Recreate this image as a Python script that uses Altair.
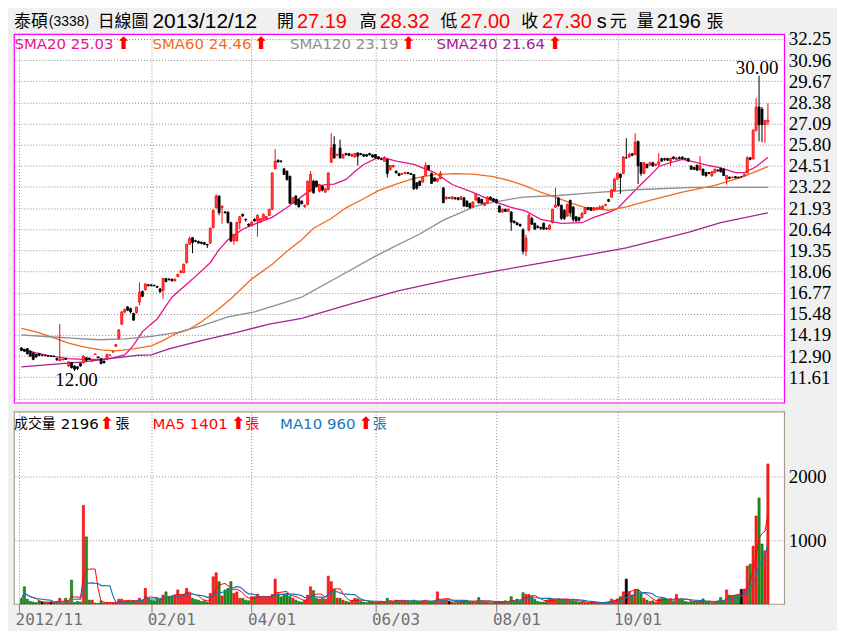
import altair as alt
import pandas as pd

# ---------------- data ----------------
OPEN = [
    13.40, 13.30, 13.35, 13.20, 13.10, 13.00, 13.05, 12.95, 12.95, 12.93,
    12.90, 12.90, 12.75, 12.62, 12.68, 12.75, 12.30, 12.50, 12.30, 12.25,
    12.45, 12.50, 12.80, 12.78, 12.60, 13.00, 12.85, 12.75, 12.60, 12.70,
    12.95, 13.15, 13.50, 14.00, 14.85, 15.60, 15.90, 15.80, 15.50, 15.55,
    16.20, 16.85, 16.95, 17.25, 17.25, 17.22, 17.15, 17.00, 16.90, 17.64,
    17.60, 17.60, 17.50, 17.76, 18.00, 18.00, 18.60, 19.73, 20.13, 19.95,
    19.90, 19.85, 19.83, 19.72, 19.80, 20.75, 21.96, 22.67, 21.96, 21.70,
    21.69, 21.04, 19.93, 19.93, 21.04, 21.55, 21.25, 20.95, 20.88, 21.25,
    21.15, 21.08, 21.25, 21.30, 21.49, 21.85, 24.33, 24.85, 24.80, 24.33,
    24.19, 23.88, 22.26, 22.67, 22.46, 22.36, 22.02, 22.16, 22.97, 23.58,
    23.58, 22.97, 23.27, 22.91, 23.07, 24.73, 25.81, 25.18, 25.60, 24.99,
    25.26, 25.25, 25.10, 25.06, 25.30, 25.26, 25.20, 25.20, 25.26, 25.18,
    25.20, 25.06, 24.93, 24.79, 24.89, 24.29, 24.45, 24.19, 24.04, 24.00,
    24.04, 24.10, 24.04, 23.98, 23.48, 23.58, 23.52, 23.92, 24.53, 24.04,
    23.78, 23.58, 23.72, 23.17, 22.50, 22.56, 22.50, 22.56, 22.56, 22.46,
    22.56, 22.36, 22.22, 22.02, 22.42, 22.56, 22.46, 22.10, 22.26, 22.60,
    22.50, 22.46, 22.06, 21.69, 21.86, 21.73, 21.69, 21.14, 21.04, 20.94,
    20.60, 19.30, 20.60, 21.30, 21.00, 20.80, 20.75, 21.00, 20.70, 20.65,
    21.05, 21.98, 22.55, 22.10, 21.80, 21.45, 22.40, 22.00, 21.40, 21.35,
    21.35, 21.60, 21.95, 21.95, 21.80, 21.85, 21.90, 21.90, 22.10, 22.45,
    22.60, 23.00, 23.70, 24.00, 24.05, 25.00, 25.05, 25.25, 25.20, 26.00,
    24.70, 24.05, 24.60, 24.55, 24.70, 24.55, 24.60, 24.95, 24.95, 24.95,
    24.80, 25.05, 24.90, 25.00, 25.05, 24.95, 24.95, 24.50, 24.40, 24.55,
    24.30, 24.30, 24.10, 24.10, 23.90, 24.10, 24.25, 24.35, 24.30, 23.68,
    23.82, 23.80, 23.85, 23.82, 23.85, 23.90, 24.08, 25.00, 24.93, 26.68,
    28.10, 27.97, 27.02, 27.19,
]
HIGH = [
    13.45, 13.35, 13.40, 13.25, 13.12, 13.05, 13.10, 13.00, 12.98, 12.95,
    12.95, 12.95, 12.80, 14.86, 12.75, 12.78, 12.60, 12.55, 12.35, 12.28,
    12.50, 12.95, 12.85, 12.80, 12.72, 13.05, 12.88, 12.80, 12.62, 13.05,
    13.00, 13.20, 13.62, 14.55, 15.65, 15.80, 15.95, 15.85, 15.55, 15.90,
    17.40, 16.90, 17.35, 17.30, 17.28, 17.26, 17.20, 17.05, 17.65, 17.66,
    17.65, 17.62, 17.62, 17.92, 18.15, 18.55, 19.75, 20.20, 20.15, 20.00,
    19.95, 19.90, 19.86, 19.75, 20.75, 21.85, 22.77, 22.70, 22.10, 21.75,
    21.72, 21.10, 20.35, 21.10, 21.45, 21.60, 21.30, 21.00, 21.10, 21.30,
    21.55, 21.30, 21.60, 21.45, 21.90, 24.10, 25.54, 24.90, 24.85, 24.35,
    24.20, 23.90, 22.60, 22.70, 22.50, 22.40, 22.15, 23.60, 24.20, 23.65,
    23.60, 23.40, 23.30, 23.15, 24.10, 26.50, 26.31, 25.25, 26.11, 25.25,
    25.30, 25.30, 25.25, 25.30, 25.32, 25.30, 25.25, 25.22, 25.30, 25.20,
    25.22, 25.10, 24.98, 25.10, 24.95, 24.55, 24.58, 24.22, 24.08, 24.08,
    24.15, 24.12, 24.08, 24.00, 23.50, 23.60, 23.90, 24.73, 24.55, 24.10,
    23.80, 23.75, 24.19, 23.20, 22.65, 22.60, 22.66, 22.60, 22.60, 22.66,
    22.60, 22.40, 22.25, 22.35, 22.80, 22.60, 22.50, 22.30, 22.65, 22.65,
    22.55, 22.50, 22.10, 21.90, 21.90, 21.90, 21.75, 21.18, 21.08, 20.98,
    20.70, 20.30, 21.60, 21.40, 21.05, 20.90, 20.80, 21.05, 20.75, 20.95,
    21.90, 23.17, 22.60, 22.15, 21.85, 22.20, 22.45, 22.05, 21.45, 21.40,
    21.70, 22.00, 22.00, 22.00, 22.00, 22.00, 22.10, 22.10, 22.20, 22.50,
    23.10, 23.80, 24.10, 24.05, 25.10, 26.20, 25.30, 25.30, 26.50, 26.05,
    24.75, 24.75, 24.65, 24.75, 24.75, 24.65, 25.30, 25.00, 25.00, 25.00,
    25.00, 25.10, 25.05, 25.10, 25.08, 25.00, 24.98, 24.55, 24.45, 24.58,
    25.10, 24.35, 24.15, 24.12, 24.20, 24.35, 24.30, 24.40, 24.35, 23.95,
    23.85, 23.85, 23.88, 23.85, 23.90, 24.05, 25.10, 25.05, 26.75, 28.64,
    30.00, 28.10, 27.30, 28.32,
]
LOW = [
    13.20, 13.15, 13.00, 12.85, 12.65, 12.80, 12.90, 12.90, 12.90, 12.88,
    12.85, 12.85, 12.60, 12.60, 12.65, 12.68, 12.25, 12.15, 12.00, 12.05,
    12.25, 12.45, 12.60, 12.70, 12.55, 12.98, 12.78, 12.40, 12.45, 12.65,
    12.92, 13.12, 13.48, 13.90, 14.80, 15.50, 15.65, 15.50, 15.05, 15.50,
    16.00, 16.50, 16.90, 17.15, 17.15, 17.15, 17.05, 16.75, 16.40, 17.40,
    17.50, 17.45, 17.45, 17.70, 17.95, 17.95, 18.55, 19.70, 19.18, 19.85,
    19.75, 19.72, 19.68, 19.50, 19.75, 20.70, 21.90, 21.50, 20.98, 21.60,
    21.00, 19.85, 19.70, 19.90, 20.64, 21.40, 21.10, 20.80, 20.85, 21.10,
    20.19, 21.05, 21.20, 21.25, 21.45, 21.80, 24.30, 24.70, 24.70, 23.95,
    23.60, 22.20, 22.20, 22.10, 21.95, 22.15, 21.95, 22.10, 22.90, 22.80,
    23.20, 22.90, 22.95, 22.85, 23.00, 24.70, 24.95, 25.10, 24.95, 24.95,
    25.15, 25.10, 25.05, 25.00, 24.53, 25.15, 25.05, 25.05, 25.15, 25.00,
    24.95, 24.90, 24.85, 24.75, 23.80, 24.20, 24.40, 24.05, 23.88, 23.95,
    24.00, 24.00, 23.95, 23.05, 23.05, 23.30, 23.50, 23.90, 24.25, 23.40,
    23.55, 23.50, 23.70, 22.25, 22.45, 22.50, 22.45, 22.45, 22.40, 22.42,
    22.00, 22.00, 21.90, 21.95, 22.40, 22.20, 22.18, 22.05, 22.20, 22.42,
    22.30, 22.20, 21.65, 21.65, 21.70, 21.70, 20.54, 21.00, 20.88, 20.80,
    19.10, 19.00, 20.50, 20.90, 20.60, 20.70, 20.60, 20.60, 20.60, 20.60,
    21.00, 21.95, 22.00, 21.20, 21.20, 21.40, 21.40, 21.10, 21.10, 21.10,
    21.30, 21.55, 21.80, 21.75, 21.75, 21.80, 21.85, 21.85, 22.05, 22.30,
    22.55, 22.95, 23.65, 22.80, 24.00, 24.95, 25.00, 25.10, 25.15, 23.40,
    23.90, 24.00, 24.35, 24.50, 24.45, 24.50, 24.50, 24.75, 24.80, 24.80,
    24.50, 24.90, 24.85, 24.90, 24.90, 24.88, 24.75, 24.25, 24.25, 24.20,
    24.20, 23.90, 23.85, 24.00, 23.85, 24.05, 24.15, 24.10, 23.88, 23.37,
    23.70, 23.75, 23.75, 23.75, 23.80, 23.85, 24.05, 24.85, 24.90, 26.60,
    26.00, 25.95, 25.91, 27.00,
]
CLOSE = [
    13.25, 13.20, 13.05, 12.90, 12.70, 12.85, 12.95, 12.95, 12.93, 12.90,
    12.90, 12.88, 12.70, 12.72, 12.72, 12.70, 12.55, 12.20, 12.10, 12.15,
    12.30, 12.90, 12.65, 12.72, 12.70, 13.03, 12.80, 12.45, 12.50, 13.00,
    12.97, 13.17, 13.60, 14.50, 15.60, 15.75, 15.70, 15.60, 15.10, 15.90,
    16.80, 16.55, 17.30, 17.20, 17.20, 17.20, 17.10, 16.85, 17.64, 17.45,
    17.58, 17.50, 17.60, 17.90, 18.10, 18.50, 19.73, 20.07, 19.83, 19.90,
    19.80, 19.78, 19.72, 19.68, 20.70, 21.80, 22.67, 21.65, 22.05, 21.65,
    21.04, 19.93, 20.33, 21.04, 21.41, 21.45, 21.22, 20.88, 21.08, 21.15,
    21.49, 21.29, 21.55, 21.41, 21.85, 24.08, 24.79, 24.75, 24.79, 23.98,
    23.68, 22.22, 22.56, 22.16, 22.02, 22.20, 22.10, 23.58, 23.98, 22.87,
    23.27, 23.38, 23.03, 23.11, 24.08, 25.60, 24.99, 25.20, 24.99, 25.20,
    25.18, 25.15, 25.22, 25.26, 25.10, 25.20, 25.10, 25.10, 25.18, 25.05,
    24.99, 24.93, 24.90, 24.99, 24.05, 24.53, 24.53, 24.08, 23.92, 24.04,
    24.10, 24.04, 23.98, 23.11, 23.15, 23.31, 23.84, 24.53, 24.29, 23.44,
    23.58, 23.72, 24.04, 22.26, 22.60, 22.56, 22.62, 22.50, 22.46, 22.62,
    22.06, 22.02, 21.96, 22.30, 22.77, 22.26, 22.22, 22.26, 22.60, 22.46,
    22.36, 22.26, 21.69, 21.86, 21.73, 21.86, 21.08, 21.04, 20.92, 20.84,
    19.30, 20.10, 21.50, 20.95, 20.65, 20.75, 20.70, 20.65, 20.68, 20.90,
    21.85, 22.12, 22.10, 21.30, 21.30, 22.15, 21.65, 21.25, 21.15, 21.20,
    21.60, 21.95, 21.85, 21.80, 21.95, 21.95, 22.00, 22.05, 22.15, 22.35,
    23.05, 23.70, 24.05, 23.80, 25.05, 25.00, 25.20, 25.15, 25.95, 24.50,
    24.05, 24.70, 24.40, 24.70, 24.50, 24.60, 24.75, 24.80, 24.90, 24.85,
    24.98, 24.95, 25.00, 24.95, 24.95, 24.93, 24.80, 24.30, 24.30, 24.25,
    24.50, 23.95, 23.90, 24.05, 24.15, 24.30, 24.20, 24.15, 23.92, 23.92,
    23.75, 23.82, 23.78, 23.78, 23.85, 24.00, 25.00, 24.90, 26.68, 28.10,
    27.02, 27.02, 27.28, 27.30,
]
VOLUME = [
    80, 270, 75, 40, 30, 20, 50, 30, 20, 25,
    30, 20, 40, 90, 20, 90, 30, 375, 25, 40,
    30, 1547, 1052, 60, 60, 15, 10, 50, 15, 20,
    10, 15, 20, 75, 75, 50, 50, 40, 50, 50,
    90, 60, 245, 90, 60, 50, 80, 70, 140, 190,
    115, 110, 140, 220, 140, 150, 245, 165, 90, 70,
    60, 40, 50, 30, 165, 427, 490, 350, 125, 220,
    245, 350, 165, 190, 90, 90, 60, 50, 115, 115,
    155, 115, 110, 90, 110, 150, 390, 160, 110, 150,
    170, 120, 90, 60, 40, 30, 60, 140, 270, 210,
    90, 75, 90, 75, 437, 350, 230, 90, 90, 60,
    40, 30, 50, 90, 80, 40, 30, 20, 40, 30,
    20, 30, 20, 40, 90, 50, 30, 60, 40, 60,
    50, 40, 30, 60, 40, 30, 50, 60, 40, 30,
    50, 190, 60, 60, 60, 40, 30, 20, 30, 40,
    50, 60, 40, 30, 40, 100, 40, 30, 30, 20,
    20, 30, 40, 30, 50, 40, 115, 40, 75, 40,
    177, 150, 150, 120, 70, 40, 30, 30, 60, 80,
    80, 80, 85, 70, 70, 75, 60, 50, 40, 30,
    30, 20, 20, 20, 20, 20, 10, 20, 30, 40,
    75, 60, 80, 115, 190, 390, 190, 140, 220, 220,
    165, 90, 60, 40, 50, 30, 80, 90, 90, 60,
    80, 40, 150, 70, 60, 40, 30, 40, 30, 30,
    40, 80, 30, 40, 20, 30, 50, 100, 50, 220,
    140, 130, 140, 140, 230, 235, 594, 625, 906, 1380,
    1661, 940, 833, 2196,
]

# moving averages of price, read at sample candles (candle index, value)
SMA20_I = [0, 5, 10, 16, 21, 27, 31, 35, 37, 39, 41, 44, 46, 51, 58, 64, 67, 70, 75, 79,
           85, 90, 96, 100, 103, 106, 110, 113, 116, 120, 123, 127, 133, 140, 146, 153, 160, 166, 171, 176,
           183, 190, 194, 199, 202, 205, 209, 213, 216, 220, 224, 229, 233, 237, 242, 245, 249, 253]
SMA20_V = [13.35, 13.10, 12.90, 12.75, 12.70, 12.70, 12.80, 12.98, 13.35, 13.83, 14.40, 14.86, 15.17, 16.50, 17.60, 18.60, 19.40, 20.00, 20.64, 20.95,
           21.37, 21.97, 22.77, 23.25, 23.37, 23.40, 23.68, 24.17, 24.59, 24.95, 25.00, 24.80, 24.60, 24.10, 23.37, 22.89, 22.34, 21.97, 21.75, 21.25,
           21.00, 21.04, 21.37, 21.67, 21.90, 22.46, 23.20, 23.90, 24.47, 24.70, 24.90, 24.70, 24.53, 24.39, 24.10, 24.10, 24.45, 25.03]
SMA60_I = [0, 5, 10, 16, 21, 27, 32, 38, 44, 48, 52, 57, 61, 66, 71, 78, 85, 90, 95, 99,
           105, 110, 116, 121, 127, 133, 140, 147, 153, 160, 166, 171, 176, 181, 186, 191, 199, 205, 213, 224,
           235, 244, 253]
SMA60_V = [14.60, 14.38, 14.07, 13.70, 13.47, 13.28, 13.22, 13.35, 13.53, 13.85, 14.25, 14.55, 15.00, 15.65, 16.40, 17.60, 18.50, 19.30, 20.00, 20.70,
           21.30, 21.95, 22.50, 23.00, 23.40, 23.75, 23.97, 24.04, 24.00, 23.85, 23.58, 23.27, 22.90, 22.60, 22.25, 21.97, 21.80, 22.00, 22.40, 22.90,
           23.32, 23.80, 24.46]
SMA120_I = [0, 8, 17, 26, 35, 44, 53, 61, 70, 79, 88, 95, 107, 120, 126, 135, 143, 154, 160, 170,
            182, 192, 208, 228, 253]
SMA120_V = [14.20, 14.10, 14.00, 13.90, 13.95, 14.10, 14.35, 14.75, 15.30, 15.60, 16.10, 16.50, 17.70, 19.00, 19.55, 20.35, 21.20, 22.05, 22.30, 22.60,
            22.70, 22.85, 23.05, 23.20, 23.19]
SMA240_I = [0, 21, 28, 39, 44, 50, 61, 73, 84, 95, 112, 128, 146, 161, 177, 188, 205, 226, 237, 253]
SMA240_V = [12.25, 12.55, 12.70, 12.95, 12.98, 13.35, 13.85, 14.35, 14.85, 15.20, 16.10, 16.90, 17.60, 18.10, 18.60, 18.95, 19.50, 20.45, 21.05, 21.64]

MA_NAMES = ["SMA20", "SMA60", "SMA120", "SMA240"]
MA_LAST = ["25.03", "24.46", "23.19", "21.64"]
MA_COLORS = ["#E6158C", "#F26B1D", "#8E8E8E", "#A3228F"]

# month boundaries (candle index) and their labels
TICK_IDX = [-0.8, 44, 78, 120, 161, 202]
TICK_LABELS = ["2012/11", "02/01", "04/01", "06/03", "08/01", "10/01"]
PRICE_LEVELS = [32.25, 30.96, 29.67, 28.38, 27.09, 25.80, 24.51, 23.22, 21.93,
                20.64, 19.35, 18.06, 16.77, 15.48, 14.19, 12.90, 11.61, 10.32]
VOL_LEVELS = [1000, 2000]

HEADER_TEXT = ["泰碩", "(3338)", "日線圖", "2013/12/12", "開", "27.19", "高", "28.32",
               "低", "27.00", "收", "27.30", "s", "元", "量", "2196", "張"]
VOL_TEXT = ["成交量", "2196", "⬆", "張", "MA5 1401", "⬆", "張", "MA10 960", "⬆", "張"]

# ---------------- tables ----------------
n = len(CLOSE)
dirs = ["up" if c > o else ("down" if c < o else "flat") for o, c in zip(OPEN, CLOSE)]
CANDLE_LINE = {"up": "#FF0000", "down": "#000000", "flat": "#000000"}
CANDLE_FILL = {"up": "#FF4C4C", "down": "#000000", "flat": "#000000"}
VOL_FILL = {"up": "#FF2222", "down": "#1E961E", "flat": "#000000"}
VOL_LINE = {"up": "#E00000", "down": "#0A640A", "flat": "#000000"}

df = pd.DataFrame({
    "i": list(range(n)), "open": OPEN, "high": HIGH, "low": LOW, "close": CLOSE, "vol": VOLUME,
    "cl": [CANDLE_LINE[d] for d in dirs], "cf": [CANDLE_FILL[d] for d in dirs],
    "vf": [VOL_FILL[d] for d in dirs], "vs": [VOL_LINE[d] for d in dirs],
})

ma_rows = []
for name, idxs, vals in zip(MA_NAMES, [SMA20_I, SMA60_I, SMA120_I, SMA240_I],
                            [SMA20_V, SMA60_V, SMA120_V, SMA240_V]):
    for i, v in zip(idxs, vals):
        ma_rows.append({"i": i, "v": v, "name": name})
ma_df = pd.DataFrame(ma_rows)

lo_i = LOW.index(min(LOW))
hi_i = HIGH.index(max(HIGH))
lo_df = pd.DataFrame({"i": [lo_i], "p": [LOW[lo_i]], "t": [f"{LOW[lo_i]:.2f}"]})
hi_df = pd.DataFrame({"i": [hi_i], "p": [HIGH[hi_i]], "t": [f"{HIGH[hi_i]:.2f}"]})

# ---------------- scales / axes ----------------
W, PH, VH = 773, 370, 193
GRID = "#8C8C8C"
x_scale = alt.Scale(domain=[-0.833, 256.83], nice=False, zero=False)
p_scale = alt.Scale(domain=[10.06, 32.55], nice=False, zero=False)
v_scale = alt.Scale(domain=[0, 3016], nice=False, zero=False)

x_axis_p = alt.Axis(values=TICK_IDX, labels=False, ticks=False, domain=False, grid=True,
                    gridDash=[1, 2], gridColor=GRID, title=None)
label_expr = " : ".join(f"abs(datum.value - ({v})) < 0.01 ? '{l}'" for v, l in zip(TICK_IDX, TICK_LABELS)) + " : ''"
x_axis_v = alt.Axis(values=TICK_IDX, labelExpr=label_expr, grid=True, gridDash=[1, 2], gridColor=GRID,
                    domain=False, ticks=True, tickSize=8, tickColor="#808080", labelColor="#707070",
                    labelFont="DejaVu Sans Mono", labelFontSize=16, labelAlign="left", labelOffset=-4,
                    labelPadding=0, labelFlush=False, labelOverlap=False, title=None)
p_axis = alt.Axis(orient="right", values=PRICE_LEVELS,
                  labelExpr="datum.value < 11 ? '' : format(datum.value, '.2f')",
                  grid=True, gridDash=[1, 2], gridColor=GRID, ticks=False, domain=False,
                  labelFont="Liberation Serif", labelFontSize=19, labelColor="#000000",
                  labelPadding=4, labelFlush=False, labelOverlap=False, title=None)
v_axis = alt.Axis(orient="right", values=VOL_LEVELS, format="d",
                  grid=True, gridDash=[1, 2], gridColor=GRID, ticks=False, domain=False,
                  labelFont="Liberation Serif", labelFontSize=19, labelColor="#000000",
                  labelPadding=4, labelFlush=False, labelOverlap=False, title=None)

XP = alt.X("i:Q", scale=x_scale, axis=x_axis_p)
XV = alt.X("i:Q", scale=x_scale, axis=x_axis_v)


def txt(text, x, y, color, size, font, weight="normal"):
    return alt.Chart(pd.DataFrame({"t": [text]})).mark_text(
        align="left", baseline="middle", color=color, fontSize=size, font=font, fontWeight=weight
    ).encode(x=alt.value(x), y=alt.value(y), text="t:N")


CJK = "Noto Sans CJK TC"
LAT = "Liberation Sans"

# ---------------- price panel ----------------
ma_lines = alt.Chart(ma_df).mark_line(strokeWidth=1.3).encode(
    x=XP, y=alt.Y("v:Q", scale=p_scale, axis=p_axis),
    color=alt.Color("name:N", scale=alt.Scale(domain=MA_NAMES, range=MA_COLORS), legend=None),
)
wicks = alt.Chart(df).mark_rule(strokeWidth=1).encode(
    x=XP, y=alt.Y("low:Q", scale=p_scale, axis=p_axis), y2="high:Q",
    color=alt.Color("cl:N", scale=None),
)
bodies = alt.Chart(df).mark_bar(size=2, strokeWidth=0.8).encode(
    x=XP, y=alt.Y("open:Q", scale=p_scale, axis=p_axis), y2="close:Q",
    fill=alt.Fill("cf:N", scale=None), stroke=alt.Stroke("cl:N", scale=None),
)
lo_txt = alt.Chart(lo_df).mark_text(font="Liberation Serif", fontSize=19, color="#000000",
                                    baseline="middle", dx=2, dy=9).encode(
    x=XP, y=alt.Y("p:Q", scale=p_scale, axis=p_axis), text="t:N")
hi_txt = alt.Chart(hi_df).mark_text(font="Liberation Serif", fontSize=19, color="#000000",
                                    baseline="middle", dx=-2, dy=-8).encode(
    x=XP, y=alt.Y("p:Q", scale=p_scale, axis=p_axis), text="t:N")

HY = -12
hx = [0, 35, 84, 139, 264, 284, 347, 367, 428, 448, 509, 530, 585, 598, 625, 645, 695]
hcol = ["#000000", "#000000", "#000000", "#000000", "#000000", "#FF0000", "#000000", "#FF0000",
        "#000000", "#FF0000", "#000000", "#FF0000", "#000000", "#000000", "#000000", "#000000", "#000000"]
hfont = [CJK, LAT, CJK, LAT, CJK, LAT, CJK, LAT, CJK, LAT, CJK, LAT, LAT, CJK, CJK, LAT, CJK]
hsize = [17, 14, 17, 21, 17, 20, 17, 20, 17, 20, 17, 20, 20, 17, 17, 20, 17]
header = [txt(t, x, HY, c, s, f) for t, x, c, s, f in zip(HEADER_TEXT, hx, hcol, hsize, hfont)]

LY = 10
leg_x = [0.5, 139, 277, 424]
arrow_x = [103, 241, 389, 536]
legend = []
for name, last, col, lx, ax in zip(MA_NAMES, MA_LAST, MA_COLORS, leg_x, arrow_x):
    legend.append(txt(f"{name} {last}", lx, LY, col, 15, "DejaVu Sans"))
    legend.append(txt("⬆", ax, LY, "#FF0000", 17, "DejaVu Sans", "bold"))

price = alt.layer(ma_lines, wicks, bodies, lo_txt, hi_txt, *header, *legend).properties(
    width=W, height=PH,
    view=alt.ViewBackground(fill="#FFFFFF", stroke="#FF00FF", strokeWidth=1.2),
)

# ---------------- volume panel ----------------
bars = alt.Chart(df).mark_bar(size=2.2, strokeWidth=0.6).encode(
    x=XV, y=alt.Y("vol:Q", scale=v_scale, axis=v_axis),
    fill=alt.Fill("vf:N", scale=None), stroke=alt.Stroke("vs:N", scale=None),
)
ma5 = alt.Chart(df).transform_window(
    ma="mean(vol)", frame=[-4, 0], sort=[alt.SortField("i")]
).mark_line(color="#FF0000", strokeWidth=1).encode(
    x=XV, y=alt.Y("ma:Q", scale=v_scale, axis=v_axis))
ma10 = alt.Chart(df).transform_window(
    ma="mean(vol)", frame=[-9, 0], sort=[alt.SortField("i")]
).mark_line(color="#1C75BC", strokeWidth=1.2).encode(
    x=XV, y=alt.Y("ma:Q", scale=v_scale, axis=v_axis))

VY = 12
vx = [0, 47, 86, 102, 139, 218, 232, 267, 346, 360]
vcol = ["#000000", "#000000", "#FF0000", "#000000", "#FF0000", "#FF0000", "#FF0000",
        "#1C75BC", "#FF0000", "#1C75BC"]
vfont = [CJK, "DejaVu Sans", "DejaVu Sans", CJK, "DejaVu Sans", "DejaVu Sans", CJK,
         "DejaVu Sans", "DejaVu Sans", CJK]
vsize = [14, 15, 17, 14, 15, 17, 14, 15, 17, 14]
vweight = ["normal", "normal", "bold", "normal", "normal", "bold", "normal", "normal", "bold", "normal"]
vlegend = [txt(t, x, VY, c, s, f, w) for t, x, c, s, f, w in zip(VOL_TEXT, vx, vcol, vsize, vfont, vweight)]

volume = alt.layer(bars, ma5, ma10, *vlegend).properties(
    width=W, height=VH,
    view=alt.ViewBackground(fill="#FFFFFF", stroke="#A89C8C", strokeWidth=1.2),
)

chart = alt.vconcat(price, volume, spacing=1).properties(
    background="#F0F0F0",
    padding={"left": 5, "top": 1, "right": 5, "bottom": 5},
)

chart.save("out.html", embed_options={"renderer": "svg", "actions": False})
